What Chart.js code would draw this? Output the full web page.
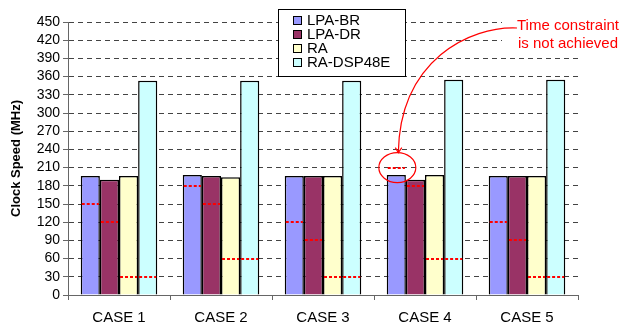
<!DOCTYPE html>
<html>
<head>
<meta charset="utf-8">
<script src="https://cdn.jsdelivr.net/npm/chart.js@4.4.1/dist/chart.umd.min.js"></script>
<style>
  html, body { margin: 0; padding: 0; background: #fff; }
  canvas { display: block; }
</style>
</head>
<body>
<canvas id="myChart" width="621" height="327"></canvas>
<script>
const cases = ['CASE 1', 'CASE 2', 'CASE 3', 'CASE 4', 'CASE 5'];
const seriesNames = ['LPA-BR', 'LPA-DR', 'RA', 'RA-DSP48E'];
const seriesColors = ['#9999ff', '#993366', '#ffffcc', '#ccffff'];

// clock speed reached (MHz)
const lpaBr = [196, 198, 196, 198, 196];
const lpaDr = [190, 196, 196, 190, 196];
const ra = [196, 194, 196, 198, 196];
const raDsp = [353, 353, 353, 355, 355];

// time constraint asked for each run (red dotted lines)
const lpaBrLimit = [150, 180, 120, 210, 120];
const lpaDrLimit = [120, 150, 90, 180, 90];
const raLimit = [30, 60, 30, 60, 30];
const raDspLimit = [30, 60, 30, 60, 30];

const yMin = 0;
const yMax = 450;
const yStep = 30;

const noteLines = ['Time constraint', 'is not achieved'];

const font = 'Arial, "Liberation Sans", sans-serif';
const allValues = [lpaBr, lpaDr, ra, raDsp];
const allLimits = [lpaBrLimit, lpaDrLimit, raLimit, raDspLimit];

// red dotted segment on every bar at its constraint
const constraintLines = {
  id: 'constraintLines',
  afterDatasetsDraw(chart) {
    const { ctx } = chart;
    const y = chart.scales.y;
    ctx.save();
    ctx.strokeStyle = '#ff0000';
    ctx.lineWidth = 2;
    ctx.setLineDash([3, 2]);
    allLimits.forEach((limits, i) => {
      chart.getDatasetMeta(i).data.forEach((bar, j) => {
        const py = Math.round(y.getPixelForValue(limits[j]));
        ctx.beginPath();
        ctx.moveTo(bar.x - bar.width / 2 + 1, py);
        ctx.lineTo(bar.x + bar.width / 2 - 1, py);
        ctx.stroke();
      });
    });
    ctx.restore();
  },
};

// legend box and the red note
const extras = {
  id: 'extras',
  afterDraw(chart) {
    const { ctx } = chart;
    const y = chart.scales.y;
    ctx.save();

    // legend
    ctx.fillStyle = '#fff';
    ctx.fillRect(278, 9, 128, 68);
    ctx.strokeStyle = '#000';
    ctx.lineWidth = 1;
    ctx.strokeRect(278.5, 9.5, 127, 67);
    ctx.font = `15px ${font}`;
    ctx.textBaseline = 'middle';
    ctx.textAlign = 'left';
    seriesNames.forEach((name, i) => {
      const cy = 20 + i * 14;
      ctx.fillStyle = seriesColors[i];
      ctx.fillRect(293, cy - 4, 9, 9);
      ctx.strokeStyle = '#000';
      ctx.strokeRect(293.5, cy - 3.5, 8, 8);
      ctx.fillStyle = '#000';
      ctx.fillText(name, 307, cy + 1);
    });

    // note text
    ctx.fillStyle = '#fff';
    ctx.fillRect(502, 12, 119, 40);
    ctx.fillStyle = '#ff0000';
    ctx.textAlign = 'center';
    ctx.fillText(noteLines[0], 568, 26);
    ctx.fillText(noteLines[1], 568, 44);

    // circle round the missed constraint of CASE 4
    const bar = chart.getDatasetMeta(0).data[3];
    const cx = bar.x;
    const cy = y.getPixelForValue(lpaBrLimit[3]);
    ctx.strokeStyle = '#ff0000';
    ctx.lineWidth = 1.2;
    ctx.beginPath();
    ctx.ellipse(cx + 1, cy, 18.5, 15, 0, 0, Math.PI * 2);
    ctx.stroke();

    // curved arrow from the note to the circle
    const tipX = cx + 2;
    const tipY = cy - 15;
    ctx.beginPath();
    ctx.moveTo(517, 28);
    ctx.bezierCurveTo(470, 26, 400, 60, tipX, tipY);
    ctx.stroke();
    ctx.beginPath();
    ctx.moveTo(tipX - 3, tipY - 5);
    ctx.lineTo(tipX, tipY);
    ctx.lineTo(tipX + 3.5, tipY - 5);
    ctx.stroke();

    ctx.restore();
  },
};

const datasets = seriesNames.map((name, i) => ({
  label: name,
  data: allValues[i],
  backgroundColor: seriesColors[i],
  borderColor: '#000',
  borderWidth: 1.5,
  categoryPercentage: 0.75,
  barPercentage: 1,
}));

const ctx = document.getElementById('myChart').getContext('2d');
const chart = new Chart(ctx, {
  type: 'bar',
  data: { labels: cases, datasets },
  options: {
    responsive: false,
    animation: false,
    layout: { padding: { top: 22, right: 43, left: 0, bottom: 0 } },
    plugins: {
      legend: { display: false },
      tooltip: { enabled: false },
    },
    scales: {
      x: {
        grid: {
          drawOnChartArea: false,
          tickLength: 5,
          color: '#666',
          offset: true,
        },
        border: { color: '#666', width: 1 },
        ticks: { font: { family: font, size: 15 }, color: '#000', padding: 9 },
        afterFit: (s) => { s.height = 32; },
      },
      y: {
        min: yMin,
        max: yMax,
        ticks: {
          stepSize: yStep,
          autoSkip: false,
          font: { family: font, size: 14 },
          color: '#000',
          padding: 3,
        },
        grid: {
          color: '#444',
          tickColor: '#666',
          tickLength: 5,
          tickBorderDash: [],
        },
        border: { color: '#666', width: 1, dash: [5, 4] },
        title: {
          display: true,
          text: 'Clock Speed (MHz)',
          font: { family: font, size: 13, weight: 'bold' },
          color: '#000',
          padding: { top: 9, bottom: 0 },
        },
        afterFit: (s) => { s.width = 68; },
      },
    },
  },
  plugins: [constraintLines, extras],
});
</script>
</body>
</html>
